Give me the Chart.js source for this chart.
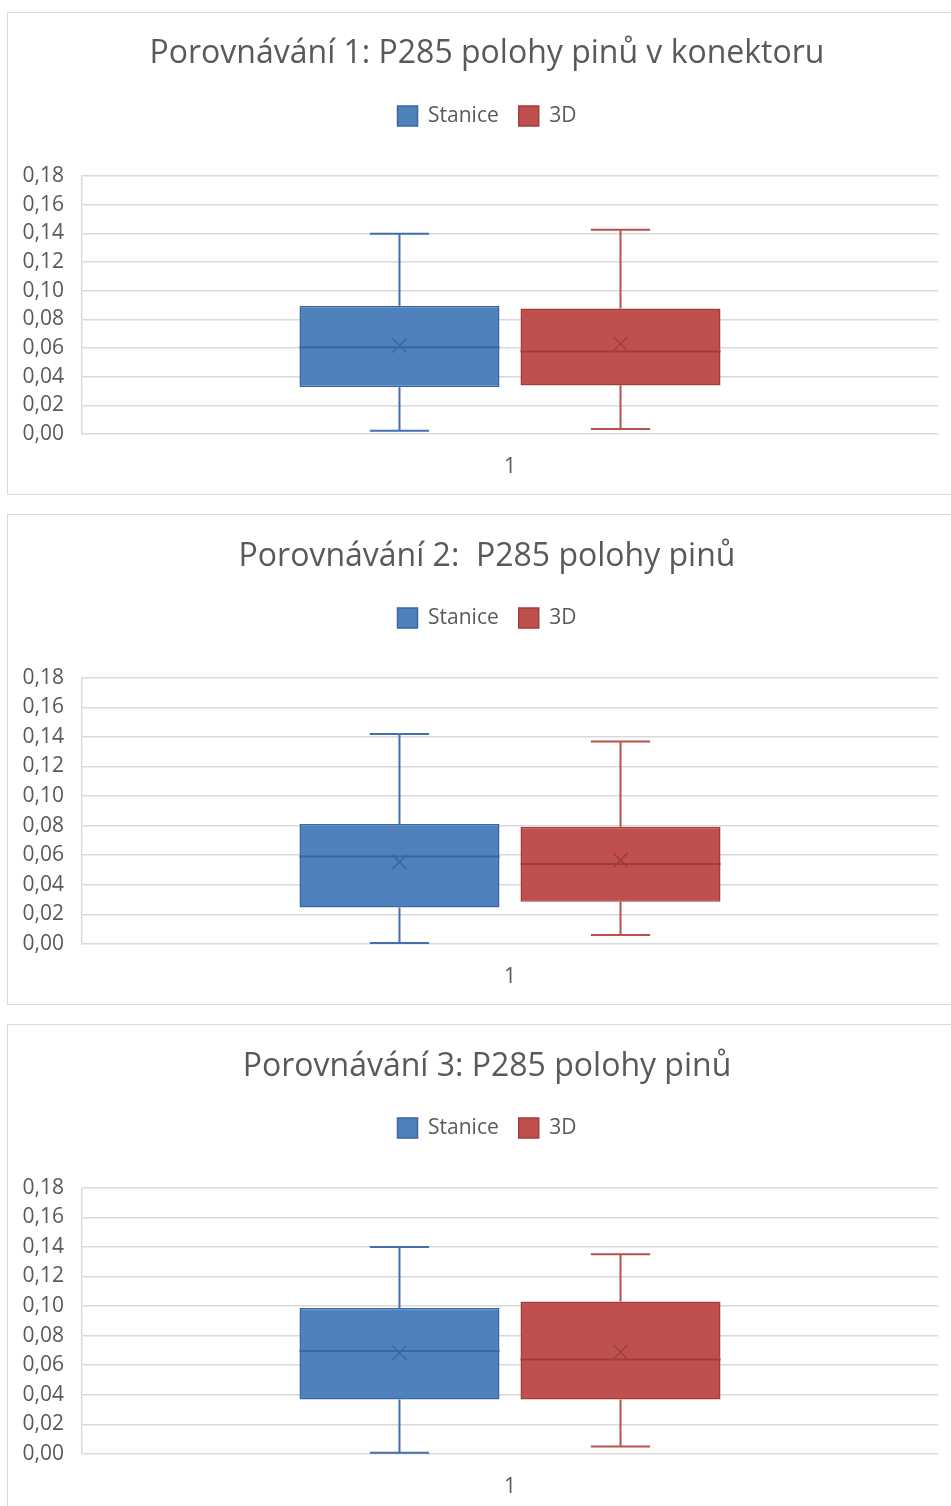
<!DOCTYPE html>
<html>
<head>
<meta charset="utf-8">
<script src="https://cdn.jsdelivr.net/npm/chart.js@4.4.1/dist/chart.umd.min.js"></script>
<style>
  body { margin: 0; background: #fff; overflow: hidden; width: 951px; height: 1506px; position: relative; }
  .box { position: absolute; left: 7px; width: 958px; border: 1px solid #d9d9d9; background: #fff; }
  canvas { display: block; }
</style>
</head>
<body>
<div class="box" style="top:12px;height:481px"><canvas id="c1" width="958" height="481"></canvas></div>
<div class="box" style="top:514px;height:489px"><canvas id="c2" width="958" height="489"></canvas></div>
<div class="box" style="top:1024px;height:489px"><canvas id="c3" width="958" height="489"></canvas></div>
<script>
const categories = ['1'];
const seriesNames = ['Stanice', '3D'];
const titles = [
  'Porovnávání 1: P285 polohy pinů v konektoru',
  'Porovnávání 2:  P285 polohy pinů',
  'Porovnávání 3: P285 polohy pinů'
];
const yMin = 0, yMax = 0.18, yStep = 0.02;

// [min, q1, median, q3, max, mean]
const stanice1 = [0.0023, 0.0327, 0.0606, 0.0894, 0.1397, 0.0618];
const treeD1   = [0.0035, 0.0339, 0.0576, 0.0876, 0.1425, 0.0629];
const stanice2 = [0.0007, 0.0246, 0.0591, 0.0811, 0.1420, 0.0555];
const treeD2   = [0.0060, 0.0285, 0.0540, 0.0793, 0.1368, 0.0567];
const stanice3 = [0.0009, 0.0369, 0.0696, 0.0987, 0.1400, 0.0685];
const treeD3   = [0.0050, 0.0369, 0.0638, 0.1030, 0.1350, 0.0690];

const FONT = '"Open Sans", sans-serif';
const TEXT = '#595959';
const GRID = '#d9d9d9';

// whiskers, median and mean mark on top of the floating bars
const boxWhiskers = {
  id: 'boxWhiskers',
  afterDatasetsDraw(chart) {
    const ctx = chart.ctx;
    const y = chart.scales.y;
    const py = v => y.getPixelForValue(v);
    chart.data.datasets.forEach((ds, i) => {
      chart.getDatasetMeta(i).data.forEach((bar, j) => {
        const s = ds.stats[j];
        const cx = bar.x, half = bar.width / 2, cap = bar.width * 0.148;
        ctx.save();
        ctx.strokeStyle = ds.whiskerColor;
        ctx.lineWidth = 2;
        ctx.beginPath();
        ctx.moveTo(cx, py(s[3])); ctx.lineTo(cx, py(s[4]));
        ctx.moveTo(cx - cap, py(s[4])); ctx.lineTo(cx + cap, py(s[4]));
        ctx.moveTo(cx, py(s[1])); ctx.lineTo(cx, py(s[0]));
        ctx.moveTo(cx - cap, py(s[0])); ctx.lineTo(cx + cap, py(s[0]));
        ctx.stroke();
        // median
        ctx.strokeStyle = ds.borderColor;
        ctx.beginPath();
        ctx.moveTo(cx - half, py(s[2])); ctx.lineTo(cx + half, py(s[2]));
        ctx.stroke();
        // mean
        const my = py(s[5]), m = 7;
        ctx.lineWidth = 1.5;
        ctx.beginPath();
        ctx.moveTo(cx - m, my - m); ctx.lineTo(cx + m, my + m);
        ctx.moveTo(cx + m, my - m); ctx.lineTo(cx - m, my + m);
        ctx.stroke();
        ctx.restore();
      });
    });
  }
};

function makeChart(id, title, a, b, padTop, spacer) {
  const ctx = document.getElementById(id).getContext('2d');
  return new Chart(ctx, {
    type: 'bar',
    data: {
      labels: categories,
      datasets: [
        {
          label: seriesNames[0],
          data: [[a[1], a[3]]],
          stats: [a],
          backgroundColor: '#4f81bd',
          borderColor: '#3a679f',
          whiskerColor: '#4470ad',
          borderWidth: 1.5,
          borderSkipped: false
        },
        {
          label: seriesNames[1],
          data: [[b[1], b[3]]],
          stats: [b],
          backgroundColor: '#c0504d',
          borderColor: '#9e3e3b',
          whiskerColor: '#b9504d',
          borderWidth: 1.5,
          borderSkipped: false
        }
      ]
    },
    options: {
      responsive: false,
      animation: false,
      layout: { padding: { top: 0, left: 0, right: 0, bottom: 15 } },
      categoryPercentage: 0.5164,
      barPercentage: 0.905,
      scales: {
        x: {
          grid: { display: false, drawTicks: false },
          border: { display: false },
          ticks: { color: TEXT, font: { family: FONT, size: 21 }, padding: 20 },
          afterFit(s) { s.height = 45; }
        },
        xTop: {
          type: 'category',
          position: 'top',
          labels: [''],
          grid: { display: false, drawTicks: false },
          border: { display: false },
          ticks: { display: false },
          afterFit(s) { s.height = spacer; }
        },
        y: {
          min: yMin,
          max: yMax,
          ticks: {
            stepSize: yStep,
            autoSkip: false,
            color: TEXT,
            padding: 18,
            font: { family: FONT, size: 21 },
            callback: v => v.toFixed(2).replace('.', ',')
          },
          grid: { color: GRID, lineWidth: 1.5, drawTicks: false },
          border: { color: GRID, width: 1.5 },
          afterFit(s) { s.width = 74; }
        },
        yRight: {
          type: 'linear',
          position: 'right',
          display: true,
          grid: { display: false, drawTicks: false },
          border: { display: false },
          ticks: { display: false },
          afterFit(s) { s.width = 28; }
        }
      },
      plugins: {
        tooltip: { enabled: false },
        title: {
          display: true,
          text: title,
          color: TEXT,
          font: { family: FONT, size: 32, weight: 'normal' },
          padding: { top: padTop, bottom: 72.5 - padTop - 38.4 }
        },
        legend: {
          position: 'top',
          labels: {
            color: TEXT,
            font: { family: FONT, size: 21 },
            boxWidth: 20,
            boxHeight: 20,
            padding: 20
          }
        }
      }
    },
    plugins: [boxWhiskers]
  });
}

makeChart('c1', titles[0], stanice1, treeD1, 21.5, 39.5);
makeChart('c2', titles[1], stanice2, treeD2, 22.5, 39.2);
makeChart('c3', titles[2], stanice3, treeD3, 22.5, 39.2);
</script>
</body>
</html>
